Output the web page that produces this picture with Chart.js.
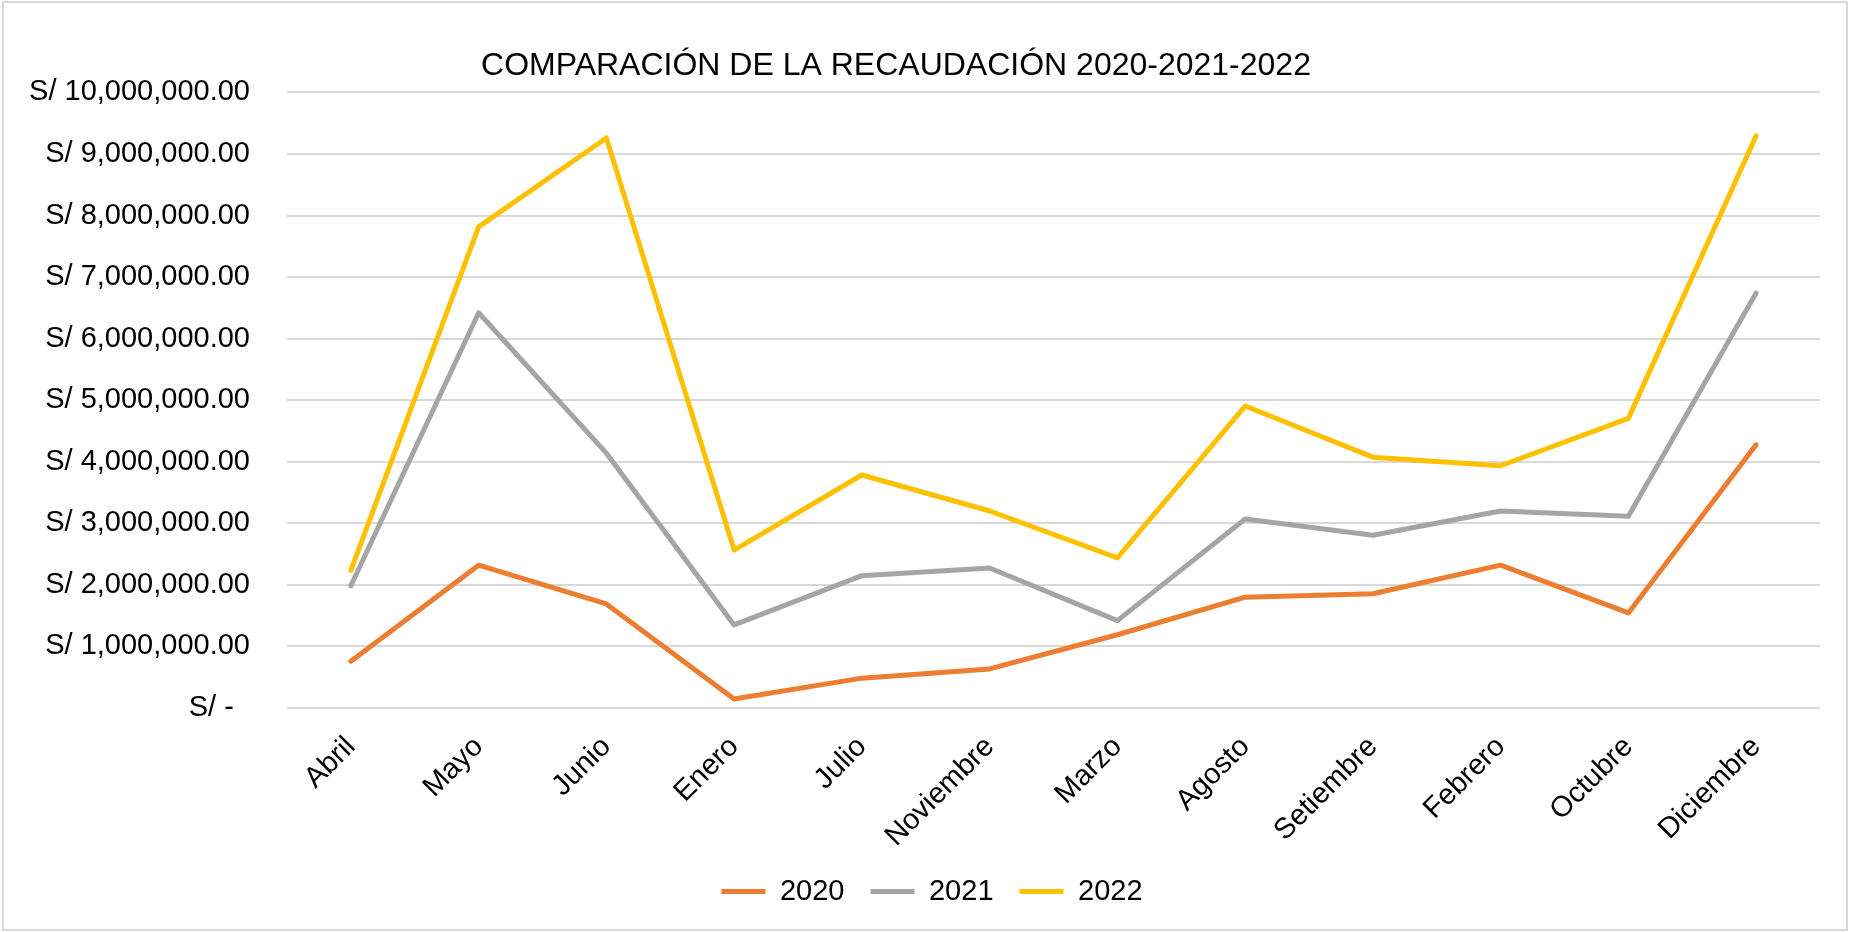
<!DOCTYPE html>
<html><head><meta charset="utf-8">
<script src="https://cdn.jsdelivr.net/npm/chart.js@4.4.1/dist/chart.umd.min.js"></script>
<style>
html,body{margin:0;padding:0;background:#fff;overflow:hidden;}
#wrap{position:relative;width:1850px;height:932px;}
#frame{position:absolute;left:2px;top:1px;width:1846px;height:930px;box-sizing:border-box;border:2px solid #d9d9d9;pointer-events:none;}
canvas{position:absolute;left:0;top:0;}
</style></head><body>
<div id="wrap"><canvas id="c" width="1850" height="932"></canvas><div id="frame"></div></div>
<script>
const titleText = 'COMPARACIÓN DE LA RECAUDACIÓN 2020-2021-2022';
const categories = ['Abril','Mayo','Junio','Enero','Julio','Noviembre','Marzo','Agosto','Setiembre','Febrero','Octubre','Diciembre'];
const seriesNames = ['2020','2021','2022'];
const values2020 = [760000, 2320000, 1690000, 145000, 485000, 635000, 1190000, 1800000, 1855000, 2320000, 1545000, 4275000];
const values2021 = [1985000, 6420000, 4140000, 1350000, 2150000, 2275000, 1420000, 3070000, 2805000, 3200000, 3115000, 6740000];
const values2022 = [2235000, 7815000, 9260000, 2565000, 3785000, 3200000, 2440000, 4905000, 4075000, 3935000, 4705000, 9295000];
const yTickValues = [0, 1000000, 2000000, 3000000, 4000000, 5000000, 6000000, 7000000, 8000000, 9000000, 10000000];
const yTickLabels = ['S/ -  ', 'S/ 1,000,000.00', 'S/ 2,000,000.00', 'S/ 3,000,000.00', 'S/ 4,000,000.00', 'S/ 5,000,000.00', 'S/ 6,000,000.00', 'S/ 7,000,000.00', 'S/ 8,000,000.00', 'S/ 9,000,000.00', 'S/ 10,000,000.00'];

const seriesColors = ['#ED7D31', '#A5A5A5', '#FFC000'];
const FONT = "'Liberation Sans', Arial, sans-serif";
Chart.defaults.font.family = FONT;
Chart.defaults.color = '#000';

const boxShift = {
  id: 'boxShift',
  afterLayout(chart) {
    const t = chart.titleBlock;
    if (t) {
      const d = 896 - (t.left + t.right) / 2;
      t.left += d; t.right += d;
    }
    const lg = chart.legend;
    if (lg) { lg.left += 22; lg.right += 22; }
  }
};

const seriesValues = [values2020, values2021, values2022];
new Chart(document.getElementById('c'), {
  type: 'line',
  data: {
    labels: categories,
    datasets: seriesNames.map((name, i) => ({
      label: name,
      data: seriesValues[i],
      borderColor: seriesColors[i],
      backgroundColor: seriesColors[i],
      borderWidth: 5,
      pointRadius: 0,
      pointHoverRadius: 0,
      tension: 0,
      fill: false,
      borderJoinStyle: 'round',
      borderCapStyle: 'round'
    }))
  },
  options: {
    responsive: false,
    animation: false,
    events: [],
    layout: { padding: { left: 0, right: 30, top: 0, bottom: 16 } },
    plugins: {
      title: {
        display: true,
        text: titleText,
        color: '#000',
        font: { size: 32, weight: 'normal', family: FONT },
        padding: { top: 47, bottom: 7 }
      },
      legend: {
        position: 'bottom',
        labels: {
          usePointStyle: true,
          pointStyle: 'line',
          pointStyleWidth: 44,
          padding: 26,
          color: '#000',
          font: { size: 29, family: FONT }
        }
      },
      tooltip: { enabled: false }
    },
    scales: {
      x: {
        offset: true,
        grid: { display: false, drawTicks: false },
        border: { display: false },
        ticks: {
          autoSkip: false,
          minRotation: 45,
          maxRotation: 45,
          padding: 22,
          color: '#000',
          font: { size: 29, family: FONT }
        },
        afterFit(scale) { scale.height = 143; }
      },
      y: {
        min: 0,
        max: 10000000,
        afterBuildTicks(scale) { scale.ticks = yTickValues.map(v => ({ value: v })); },
        grid: { color: '#d9d9d9', lineWidth: 2, drawTicks: false },
        border: { display: false },
        ticks: {
          padding: 37,
          color: '#000',
          font: { size: 29, family: FONT },
          callback: (value, index) => yTickLabels[index]
        },
        afterFit(scale) { scale.width = 287; }
      }
    }
  },
  plugins: [boxShift]
});
</script>
</body></html>
